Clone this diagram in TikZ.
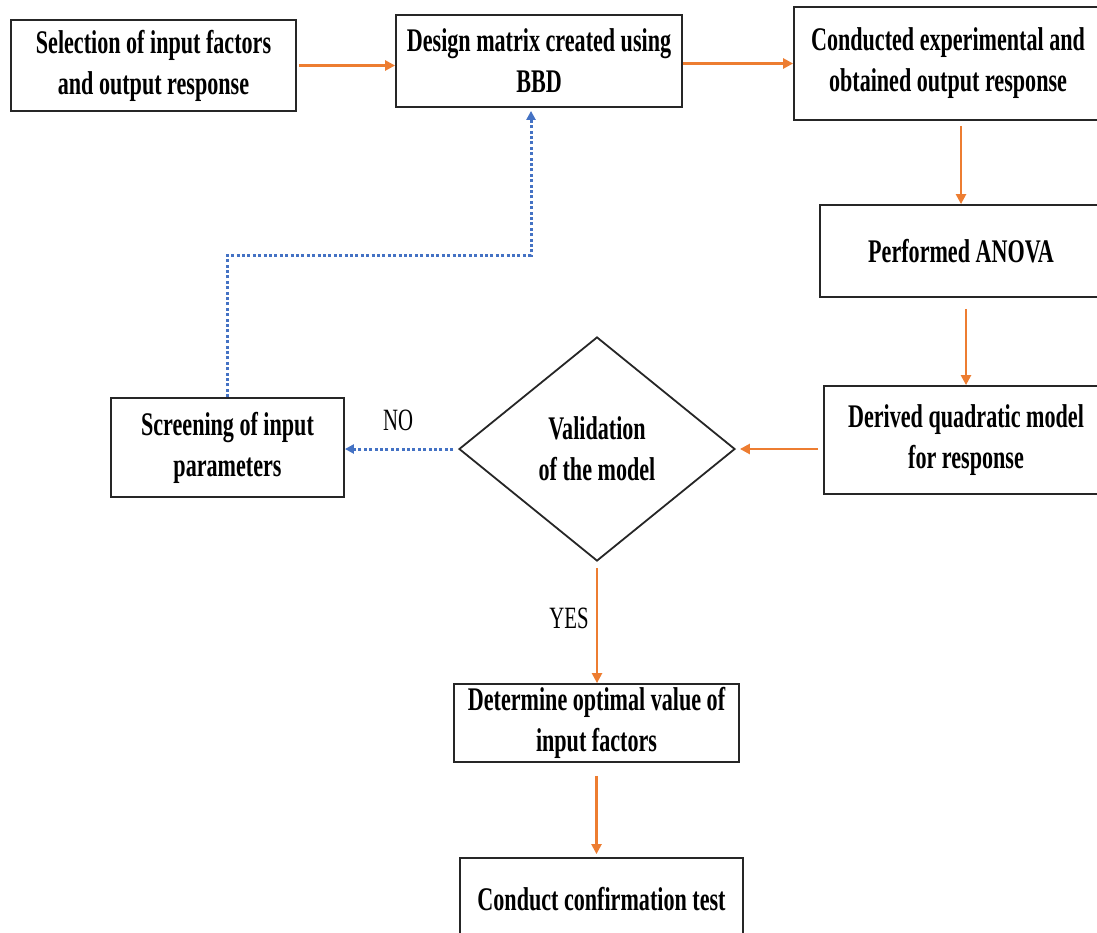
\documentclass[tikz,border=0pt]{standalone}
\usepackage{fontspec}
\setmainfont{Liberation Serif}[FakeStretch=0.67]
\usetikzlibrary{arrows.meta,shapes.geometric}
\definecolor{flow}{HTML}{ED7D31}
\definecolor{loop}{HTML}{4472C4}
\begin{document}
\begin{tikzpicture}[x=1pt,y=-1pt,
  stepbox/.style={draw=black!85,line width=1.8pt,fill=white,align=center,inner sep=0pt,
    font=\bfseries\fontsize{33}{41}\selectfont},
  decision/.style={diamond,draw=black!85,line width=1.8pt,align=center,inner sep=0pt,
    font=\bfseries\fontsize{33}{41}\selectfont},
  flowarrow/.style={draw=flow,line width=2.8pt,-{Triangle[length=10pt,width=10pt]}},
  looparrow/.style={draw=loop,line width=3pt,dash pattern=on 3pt off 2.4pt,
    -{Triangle[length=9pt,width=9pt]}},
  answer/.style={font=\fontsize{31}{36}\selectfont,inner sep=0pt}]
\useasboundingbox (0,0) rectangle (1097,932);
\clip (0,0) rectangle (1097,932);

% process steps
\node[stepbox,minimum width=285pt,minimum height=91pt] (sel) at (153.5,65.5)
  {Selection of input factors\\and output response};
\node[stepbox,minimum width=286pt,minimum height=92pt] (dm) at (539,61)
  {Design matrix created using\\BBD};
\node[stepbox,minimum width=308pt,minimum height=113pt] (cond) at (948,63.5)
  {Conducted experimental and\\obtained output response};
\node[stepbox,minimum width=282pt,minimum height=92pt] (anova) at (961,251)
  {Performed ANOVA};
\node[stepbox,minimum width=284pt,minimum height=108pt] (quad) at (966,440)
  {Derived quadratic model\\for response};
\node[decision,minimum width=276pt,minimum height=224pt] (val) at (597,449)
  {Validation\\of the model};
\node[stepbox,minimum width=233pt,minimum height=99pt] (scr) at (227.5,447.5)
  {Screening of input\\parameters};
\node[stepbox,minimum width=285pt,minimum height=78pt] (det) at (596.5,723)
  {Determine optimal value of\\input factors};
\node[stepbox,minimum width=283pt,minimum height=82pt] (conf) at (601.5,899)
  {Conduct confirmation test};

% main flow
\draw[flowarrow,shorten <=2pt] (sel.east) -- (sel.east -| dm.west);
\draw[flowarrow] (dm.east |- cond.west) -- (cond.west);
\draw[flowarrow,line width=2.3pt,shorten <=5pt] (anova.north |- cond.south) -- (anova.north);
\draw[flowarrow,line width=2.3pt,shorten <=11pt] (quad.north |- anova.south) -- (quad.north);
\draw[flowarrow,shorten <=5pt,shorten >=4pt] (quad.west |- val.east) -- (val.east);
\draw[flowarrow,line width=2.3pt,shorten <=6pt] (val.south) -- (det.north -| val.south);
\draw[flowarrow,line width=2.3pt,shorten <=13pt,shorten >=3pt] (det.south) -- (det.south |- conf.north);

% rejected model: back to the design matrix
\coordinate (turn) at (531,255);
\draw[looparrow,shorten <=5pt] (val.west) -- (val.west -| scr.east);
\draw[looparrow,shorten >=3pt] (scr.north) |- (turn) -- (turn |- dm.south);

% branch labels
\node[answer] (no) at (398,420) {NO};
\node[answer] (yes) at (569,618) {YES};
\end{tikzpicture}
\end{document}
